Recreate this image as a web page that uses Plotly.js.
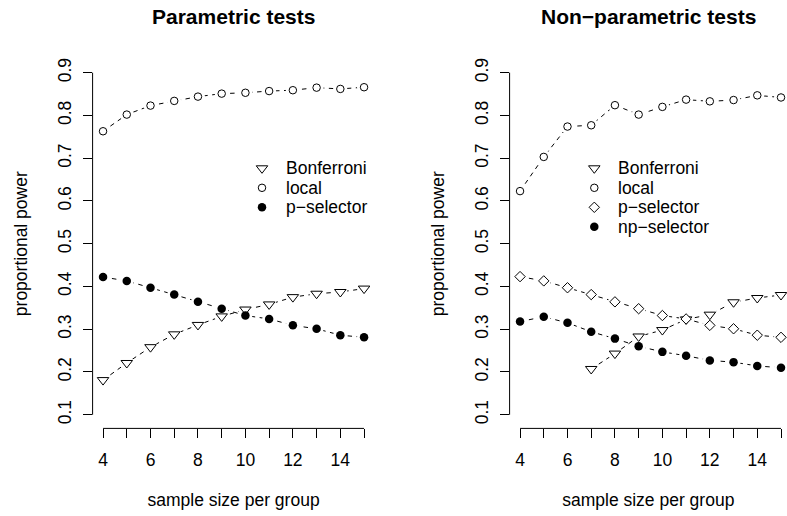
<!DOCTYPE html>
<html>
<head>
<meta charset="utf-8">
<script src="https://cdn.plot.ly/plotly-3.0.1.min.js"></script>
<style>
  html, body { margin: 0; padding: 0; background: #ffffff; }
  #chart { width: 787px; height: 516px; }
</style>
</head>
<body>
<div id="chart"></div>
<script>
// Sample sizes per group (x values shared by both panels)
const sampleSize = [4, 5, 6, 7, 8, 9, 10, 11, 12, 13, 14, 15];

// Parametric tests: proportional power
const paramBonferroni = [0.181, 0.221, 0.258, 0.288, 0.310, 0.330, 0.346, 0.358, 0.375, 0.383, 0.387, 0.395];
const paramLocal      = [0.763, 0.802, 0.823, 0.834, 0.844, 0.851, 0.853, 0.857, 0.859, 0.865, 0.862, 0.866];
const paramPSelector  = [0.422, 0.413, 0.397, 0.381, 0.364, 0.348, 0.332, 0.324, 0.309, 0.301, 0.286, 0.281];

// Non-parametric tests: proportional power (Bonferroni only defined from n = 7)
const nonparBonferroniSize = [7, 8, 9, 10, 11, 12, 13, 14, 15];
const nonparBonferroni = [0.207, 0.243, 0.283, 0.298, 0.323, 0.334, 0.363, 0.373, 0.380];
const nonparLocal      = [0.623, 0.703, 0.774, 0.777, 0.824, 0.802, 0.820, 0.837, 0.833, 0.836, 0.847, 0.842];
const nonparPSelector  = [0.423, 0.413, 0.397, 0.381, 0.364, 0.348, 0.332, 0.324, 0.309, 0.301, 0.286, 0.281];
const nonparNpSelector = [0.318, 0.329, 0.315, 0.294, 0.278, 0.260, 0.247, 0.238, 0.227, 0.223, 0.214, 0.210];

// Axis ticks and labels
const xTickVals = [4, 5, 6, 7, 8, 9, 10, 11, 12, 13, 14, 15];
const xTickText = ['4', '', '6', '', '8', '', '10', '', '12', '', '14', ''];
const yTickVals = [0.1, 0.2, 0.3, 0.4, 0.5, 0.6, 0.7, 0.8, 0.9];
const yTickText = ['0.1', '0.2', '0.3', '0.4', '0.5', '0.6', '0.7', '0.8', '0.9'];

const panelTitles = ['Parametric tests', 'Non\u2212parametric tests'];
const xTitle = 'sample size per group';
const yTitle = 'proportional power';

// ---- styling ----
const W = 787, H = 516;
const FONT = 'Liberation Sans, Arial, Helvetica, sans-serif';
const FS = 17.5;
const INK = '#000000';

const MARK = {
  bonferroni: { symbol: 'triangle-down', size: 10, color: '#ffffff', line: { color: INK, width: 1 } },
  local:      { symbol: 'circle',        size: 7.5, color: '#ffffff', line: { color: INK, width: 1 } },
  pdiamond:   { symbol: 'diamond',       size: 8,  color: '#ffffff', line: { color: INK, width: 1 } },
  filled:     { symbol: 'circle',        size: 8.5, color: INK, line: { color: INK, width: 0 } }
};
const MASK = { symbol: 'circle', size: 14, color: '#ffffff', line: { width: 0 } };

// Plot regions in pixels
const yTopPx = 59.0, yBotPx = 428.4;
const yDomain = [(H - yBotPx) / H, (H - yTopPx) / H];
const leftDom = [92.6 / W, 374.5 / W];
const rightDom = [509.6 / W, 1];

const panels = [
  {
    xa: 'x', ya: 'y', dom: leftDom, range: [3.56, 15.44],
    series: [
      { name: 'Bonferroni', x: sampleSize, y: paramBonferroni, mark: MARK.bonferroni },
      { name: 'local',      x: sampleSize, y: paramLocal,      mark: MARK.local },
      { name: 'p\u2212selector', x: sampleSize, y: paramPSelector, mark: MARK.filled }
    ],
    legend: { sx: 262, tx: 285, top: 168.3, step: 19.5 }
  },
  {
    xa: 'x2', ya: 'y2', dom: rightDom, range: [3.56, 15.253],
    series: [
      { name: 'Bonferroni', x: nonparBonferroniSize, y: nonparBonferroni, mark: MARK.bonferroni },
      { name: 'local',      x: sampleSize, y: nonparLocal,      mark: MARK.local },
      { name: 'p\u2212selector',  x: sampleSize, y: nonparPSelector,  mark: MARK.pdiamond },
      { name: 'np\u2212selector', x: sampleSize, y: nonparNpSelector, mark: MARK.filled }
    ],
    legend: { sx: 594.3, tx: 617.3, top: 168.3, step: 19.5 }
  }
];

const traces = [];
const shapes = [];
const annotations = [];

panels.forEach((p, pi) => {
  // dashed connecting lines
  p.series.forEach(s => traces.push({
    type: 'scatter', mode: 'lines', x: s.x, y: s.y, xaxis: p.xa, yaxis: p.ya,
    line: { color: INK, width: 1, dash: '4.5px,4.5px' }, hoverinfo: 'skip', showlegend: false
  }));
  // white halo so the lines stop short of each point
  p.series.forEach(s => traces.push({
    type: 'scatter', mode: 'markers', x: s.x, y: s.y, xaxis: p.xa, yaxis: p.ya,
    marker: MASK, hoverinfo: 'skip', showlegend: false
  }));
  // point symbols
  p.series.forEach(s => traces.push({
    type: 'scatter', mode: 'markers', name: s.name, x: s.x, y: s.y, xaxis: p.xa, yaxis: p.ya,
    marker: s.mark, showlegend: false
  }));

  // legend keys on a pixel-space overlay
  p.series.forEach((s, i) => {
    traces.push({
      type: 'scatter', mode: 'markers', x: [p.legend.sx], y: [p.legend.top + i * p.legend.step],
      xaxis: 'x3', yaxis: 'y3', marker: s.mark, hoverinfo: 'skip', showlegend: false
    });
    annotations.push({
      xref: 'x3', yref: 'y3', x: p.legend.tx, y: p.legend.top + i * p.legend.step,
      xanchor: 'left', yanchor: 'middle', text: s.name, showarrow: false,
      font: { family: FONT, size: FS, color: INK }, borderpad: 0
    });
  });

  const xd = p.xa === 'x' ? 'x domain' : 'x2 domain';
  const yd = p.ya === 'y' ? 'y domain' : 'y2 domain';
  // axis lines spanning only the tick range
  shapes.push({ type: 'line', xref: p.xa, yref: yd, x0: xTickVals[0], x1: xTickVals[xTickVals.length - 1], y0: 0, y1: 0,
    line: { color: INK, width: 1 } });
  shapes.push({ type: 'line', xref: xd, yref: p.ya, x0: 0, x1: 0, y0: yTickVals[0], y1: yTickVals[yTickVals.length - 1],
    line: { color: INK, width: 1 } });

  // panel title
  annotations.push({
    xref: xd, yref: 'paper', x: 0.5, y: 1 - 16 / H, xanchor: 'center', yanchor: 'middle',
    text: '<b>' + panelTitles[pi] + '</b>', showarrow: false,
    font: { family: FONT, size: 21, color: INK }
  });
});

function xAxis(p, anchor) {
  return {
    domain: p.dom, range: p.range, anchor: anchor, fixedrange: true,
    showgrid: false, zeroline: false, showline: false,
    ticks: 'outside', ticklen: 9, tickwidth: 1, tickcolor: INK,
    tickmode: 'array', tickvals: xTickVals, ticktext: xTickText, ticklabelstandoff: 7,
    tickfont: { family: FONT, size: FS, color: INK },
    title: { text: xTitle, font: { family: FONT, size: FS, color: INK }, standoff: 24 },
    automargin: false
  };
}
function yAxis(anchor) {
  return {
    domain: yDomain, range: [0.068, 0.932], anchor: anchor, fixedrange: true,
    showgrid: false, zeroline: false, showline: false,
    ticks: 'outside', ticklen: 9, tickwidth: 1, tickcolor: INK,
    tickmode: 'array', tickvals: yTickVals, ticktext: yTickText, tickangle: -90, ticklabelstandoff: 5,
    tickfont: { family: FONT, size: FS, color: INK },
    title: { text: yTitle, font: { family: FONT, size: FS, color: INK }, standoff: 22 },
    automargin: false
  };
}

const layout = {
  width: W, height: H,
  margin: { l: 0, r: 0, t: 0, b: 0 },
  paper_bgcolor: '#ffffff', plot_bgcolor: 'rgba(0,0,0,0)',
  font: { family: FONT, size: FS, color: INK },
  showlegend: false,
  xaxis: xAxis(panels[0], 'y'),
  yaxis: yAxis('x'),
  xaxis2: xAxis(panels[1], 'y2'),
  yaxis2: yAxis('x2'),
  // pixel-space overlay used for the legend keys
  xaxis3: { domain: [0, 1], range: [0, W], anchor: 'y3', visible: false, fixedrange: true },
  yaxis3: { domain: [0, 1], range: [H, 0], anchor: 'x3', visible: false, fixedrange: true },
  shapes: shapes,
  annotations: annotations
};

Plotly.newPlot('chart', traces, layout, { displayModeBar: false, staticPlot: true });
</script>
</body>
</html>
